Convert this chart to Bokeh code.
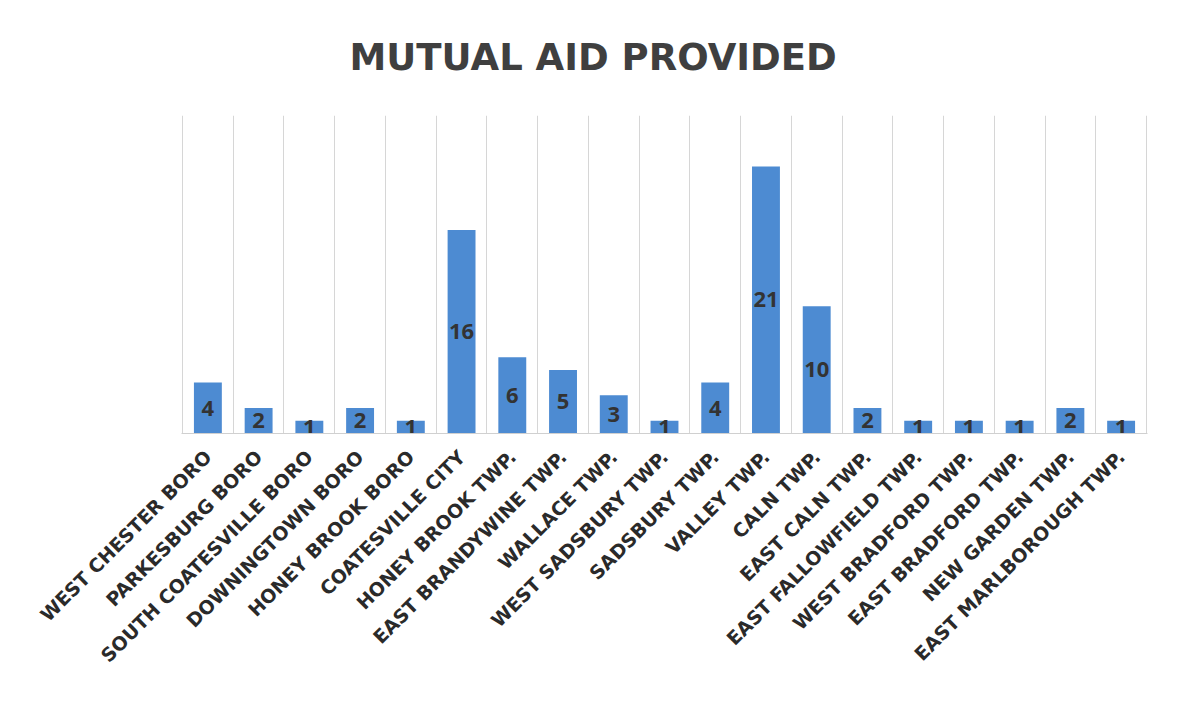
from bokeh.plotting import figure
from bokeh.models import ColumnDataSource, FixedTicker, Range1d
from bokeh.core.properties import value
from bokeh.embed import file_html
from bokeh.resources import INLINE

categories = [
    "WEST CHESTER BORO", "PARKESBURG BORO", "SOUTH COATESVILLE BORO",
    "DOWNINGTOWN BORO", "HONEY BROOK BORO", "COATESVILLE CITY",
    "HONEY BROOK TWP.", "EAST BRANDYWINE TWP.", "WALLACE TWP.",
    "WEST SADSBURY TWP.", "SADSBURY TWP.", "VALLEY TWP.", "CALN TWP.",
    "EAST CALN TWP.", "EAST FALLOWFIELD TWP.", "WEST BRADFORD TWP.",
    "EAST BRADFORD TWP.", "NEW GARDEN TWP.", "EAST MARLBOROUGH TWP.",
]
values = [4, 2, 1, 2, 1, 16, 6, 5, 3, 1, 4, 21, 10, 2, 1, 1, 1, 2, 1]

n = len(categories)
xs = [i + 0.5 for i in range(n)]
source = ColumnDataSource(dict(
    x=xs, top=values, mid=[v / 2 for v in values],
    label=[str(v) for v in values],
))

p = figure(width=1163, height=689, output_backend="svg", toolbar_location=None,
           x_range=Range1d(-0.02, n + 0.02), y_range=Range1d(0, 25),
           min_border_left=181, min_border_right=16, min_border_top=115,
           min_border_bottom=256)

p.title.text = "MUTUAL AID PROVIDED"
p.title.align = "left"
p.title.offset = 168
p.title.vertical_align = "top"
p.title.standoff = 70
p.title.text_font = "DejaVu Sans"
p.title.text_font_style = "bold"
p.title.text_font_size = "37px"
p.title.text_color = "#3f3f3f"

p.vbar(x="x", top="top", width=0.55, bottom=0, source=source,
       fill_color="#4d8bd2", line_color=None)

p.text(x="x", y="mid", text="label", source=source,
       text_align="center", text_baseline="middle",
       text_font=value("Open Sans"), text_font_style="bold",
       text_font_size="22px", text_color="#333333")

p.xaxis.ticker = FixedTicker(ticks=xs)
p.xaxis.major_label_overrides = {x: c for x, c in zip(xs, categories)}
p.xaxis.major_label_orientation = 0.785
p.xaxis.major_label_text_font = "DejaVu Sans"
p.xaxis.major_label_text_font_style = "bold"
p.xaxis.major_label_text_font_size = "19px"
p.xaxis.major_label_text_color = "#2a2a2a"
p.xaxis.major_tick_line_color = None
p.xaxis.minor_tick_line_color = None
p.xaxis.axis_line_color = "#d0d0d0"
p.xaxis.major_label_standoff = 14

p.yaxis.visible = False
p.ygrid.visible = False
p.xgrid.ticker = FixedTicker(ticks=list(range(n + 1)))
p.xgrid.grid_line_color = "#d6d6d6"

p.outline_line_color = None
p.border_fill_color = "white"
p.background_fill_color = "white"

open("out.html", "w").write(file_html(p, INLINE))
